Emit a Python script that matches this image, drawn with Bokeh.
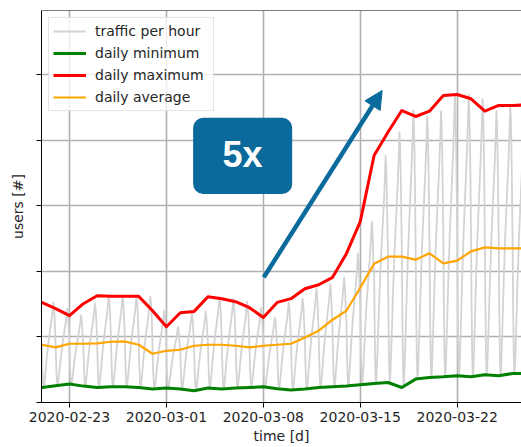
import pandas as pd
from bokeh.plotting import figure
from bokeh.models import (ColumnDataSource, Range1d, FixedTicker, DatetimeTickFormatter,
                          CustomJSTickFormatter, BoxAnnotation, Label, Arrow, NormalHead, Span)
from bokeh.embed import file_html
from bokeh.resources import INLINE

# ---------------- data ----------------
start_date = "2020-02-21"
n_days = 36

daily_max = [1527, 1431, 1324, 1507, 1629, 1619, 1619, 1619, 1400, 1156,
             1370, 1390, 1614, 1584, 1538, 1446, 1298, 1527, 1584, 1736,
             1797, 1909, 2271, 2760, 3767, 4123, 4454, 4363, 4444, 4683,
             4699, 4633, 4444, 4531, 4531, 4540]
daily_min = [229, 255, 281, 250, 229, 240, 240, 229, 205, 220,
             205, 179, 220, 205, 220, 229, 240, 209, 189, 205,
             229, 240, 250, 270, 290, 305, 229, 357, 382, 392,
             408, 392, 423, 408, 443, 443]
daily_avg = [881, 840, 896, 896, 901, 927, 931, 881, 744, 789,
             805, 866, 881, 881, 866, 840, 866, 881, 896, 993,
             1095, 1263, 1400, 1751, 2118, 2225, 2225, 2179, 2275, 2123,
             2164, 2306, 2367, 2352, 2352, 2352]
# typical shape of one day (fraction between the day's minimum and maximum)
hour_profile = [0.50, 0.25, 0.08, 0.00, 0.02, 0.08, 0.15, 0.22, 0.30, 0.37,
                0.43, 0.50, 0.55, 0.60, 0.65, 0.70, 0.75, 0.80, 0.86, 0.92,
                1.00, 0.95, 0.85, 0.70]

x_tick_dates = ["2020-02-23", "2020-03-01", "2020-03-08", "2020-03-15", "2020-03-22"]
y_ticks = [0, 1000, 2000, 3000, 4000, 5000]
legend_labels = ["traffic per hour", "daily minimum", "daily maximum", "daily average"]

# ---------------- build sources ----------------
days = pd.date_range(start_date, periods=n_days, freq="D")
daily = ColumnDataSource(dict(t=days, mx=daily_max, mn=daily_min, av=daily_avg))

h_t, h_v = [], []
for i, d in enumerate(days):
    for h, f in enumerate(hour_profile):
        h_t.append(d + pd.Timedelta(hours=h))
        h_v.append(daily_min[i] + f * (daily_max[i] - daily_min[i]))
hourly = ColumnDataSource(dict(t=h_t, v=h_v))


def ms(s):
    return pd.Timestamp(s).value / 1e6


BLUE = "#0B6A9C"
TXT = "#262626"
FONT = "DejaVu Sans"

p = figure(width=521, height=447, x_axis_type="datetime",
           output_backend="svg", toolbar_location=None,
           x_range=Range1d(ms("2020-02-20 23:30"), ms("2020-03-26 15:30")),
           y_range=Range1d(0, 5980),
           min_border_left=41, min_border_right=0, min_border_top=10, min_border_bottom=45)
p.outline_line_color = None
p.background_fill_color = "white"
p.border_fill_color = "white"

p.line("t", "v", source=hourly, color="#d3d3d3", line_width=1.8, line_join="round",
       legend_label=legend_labels[0])
p.line("t", "mn", source=daily, color="green", line_width=3, line_join="round",
       legend_label=legend_labels[1])
p.line("t", "mx", source=daily, color="red", line_width=3, line_join="round",
       legend_label=legend_labels[2])
p.line("t", "av", source=daily, color="orange", line_width=2.2, line_join="round",
       legend_label=legend_labels[3])

# axes
p.xaxis.ticker = FixedTicker(ticks=[ms(d) for d in x_tick_dates])
fmt = "%Y-%m-%d"
p.xaxis.formatter = DatetimeTickFormatter(days=fmt, months=fmt, hours=fmt, years=fmt)
p.yaxis.ticker = FixedTicker(ticks=y_ticks)
p.yaxis.formatter = CustomJSTickFormatter(code="return ''")
for ax in (p.xaxis, p.yaxis):
    ax.axis_line_color = "black"
    ax.axis_line_width = 1
    ax.major_tick_line_color = "black"
    ax.major_tick_out = 5
    ax.major_tick_in = 0
    ax.minor_tick_line_color = None
    ax.major_label_text_font = FONT
    ax.major_label_text_font_size = "14px"
    ax.major_label_text_color = TXT
    ax.axis_label_text_font = FONT
    ax.axis_label_text_font_size = "14px"
    ax.axis_label_text_font_style = "normal"
    ax.axis_label_text_color = TXT
p.xaxis.major_label_standoff = 4
p.xaxis.axis_label_standoff = 3
p.yaxis.major_label_standoff = 0
p.yaxis.axis_label_standoff = 11
p.xaxis.axis_label = "time [d]"
p.yaxis.axis_label = "users [#]"

p.grid.grid_line_color = "#b0b0b0"
p.grid.grid_line_width = 1.6

# top spine
p.add_layout(Span(location=5980, dimension="width", line_color="black", line_width=1))

# annotation: box with "5x" and arrow
p.add_layout(BoxAnnotation(left=ms("2020-03-02 22:20"), right=ms("2020-03-10 02:00"),
                           bottom=3182, top=4343, fill_color=BLUE, fill_alpha=1,
                           line_color=None, border_radius=10))
p.add_layout(Label(x=ms("2020-03-06 12:00"), y=3780, text="5x", text_color="white",
                   text_font="Liberation Sans", text_font_style="bold",
                   text_font_size="36px", text_align="center", text_baseline="middle"))
p.add_layout(Arrow(end=NormalHead(size=18, fill_color=BLUE, line_color=BLUE),
                   x_start=ms("2020-03-08 00:45"), y_start=1909,
                   x_end=ms("2020-03-16 14:00"), y_end=4760,
                   line_color=BLUE, line_width=4.5))

# legend
lg = p.legend[0]
lg.location = "top_left"
lg.margin = 7
lg.padding = 4
lg.spacing = 4
lg.label_height = 18
lg.glyph_height = 18
lg.glyph_width = 33
lg.label_standoff = 9
lg.label_width = 114
lg.label_text_font = FONT
lg.label_text_font_size = "14px"
lg.label_text_color = TXT
lg.border_line_color = "#cccccc"
lg.border_line_width = 1
lg.background_fill_color = "white"
lg.background_fill_alpha = 0.8

open("out.html", "w").write(file_html(p, INLINE))
